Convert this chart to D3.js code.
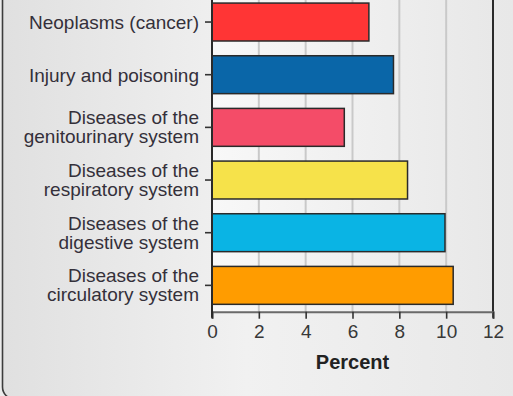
<!DOCTYPE html>
<html>
<head>
<meta charset="utf-8">
<script src="https://cdn.jsdelivr.net/npm/d3@7"></script>
<style>
  html, body { margin: 0; padding: 0; background: #ececec; }
  svg { display: block; }
  text { font-family: "Liberation Sans", Arial, sans-serif; }
</style>
</head>
<body>
<svg id="chart" width="513" height="396"></svg>
<script>
const categories = [
  "Neoplasms (cancer)",
  "Injury and poisoning",
  "Diseases of the genitourinary system",
  "Diseases of the respiratory system",
  "Diseases of the digestive system",
  "Diseases of the circulatory system"
];
const values = [6.7, 7.75, 5.65, 8.35, 9.95, 10.3];
const barColors = ["#ff3535", "#0a66a8", "#f44c68", "#f6e24a", "#0ab4e4", "#ff9c00"];
const xTicks = [0, 2, 4, 6, 8, 10, 12];
const xTitle = "Percent";

const svg = d3.select("#chart");
const W = 513, H = 396;
const plot = { left: 212, right: 493, top: -4.3, bottom: 311.7 };

const defs = svg.append("defs");
const bgGrad = defs.append("linearGradient").attr("id", "bgGrad").attr("x1", "0").attr("x2", "1").attr("y1", "0").attr("y2", "0");
bgGrad.append("stop").attr("offset", "0").attr("stop-color", "#e0e0e0");
bgGrad.append("stop").attr("offset", "0.45").attr("stop-color", "#f1f1f1");
bgGrad.append("stop").attr("offset", "1").attr("stop-color", "#e7e7e7");
const plotGrad = defs.append("linearGradient").attr("id", "plotGrad").attr("x1", "0").attr("x2", "1").attr("y1", "0").attr("y2", "0");
plotGrad.append("stop").attr("offset", "0").attr("stop-color", "#f8f8f8");
plotGrad.append("stop").attr("offset", "1").attr("stop-color", "#e8e8e8");

// outer panel
svg.append("rect").attr("x", 0).attr("y", 0).attr("width", W).attr("height", H).attr("fill", "#ececec");
svg.append("rect")
  .attr("x", 2.5).attr("y", -30).attr("width", W + 30).attr("height", 30 + 399)
  .attr("rx", 12).attr("ry", 12)
  .attr("fill", "url(#bgGrad)").attr("stroke", "#3c3c3c").attr("stroke-width", 1.6);

const x = d3.scaleLinear().domain([0, 12]).range([plot.left, plot.right]);
const y = d3.scaleBand().domain(categories).range([plot.top, plot.bottom])
  .paddingInner(0.28).paddingOuter(0.14);

// plot background
svg.append("rect")
  .attr("x", plot.left).attr("y", plot.top)
  .attr("width", plot.right - plot.left).attr("height", plot.bottom - plot.top)
  .attr("fill", "url(#plotGrad)");

// grid lines
svg.append("g").selectAll("line")
  .data(xTicks.filter(t => t > 0 && t < 12))
  .join("line")
  .attr("x1", d => x(d)).attr("x2", d => x(d))
  .attr("y1", plot.top).attr("y2", plot.bottom)
  .attr("stroke", "#c9c9c9").attr("stroke-width", 2);

// bars
svg.append("g").selectAll("rect")
  .data(categories)
  .join("rect")
  .attr("x", x(0))
  .attr("y", d => y(d))
  .attr("width", (d, i) => x(values[i]) - x(0))
  .attr("height", y.bandwidth())
  .attr("fill", (d, i) => barColors[i])
  .attr("stroke", "#2a2a2a").attr("stroke-width", 1.5);

// right border of plot
svg.append("line")
  .attr("x1", plot.right).attr("x2", plot.right)
  .attr("y1", plot.top).attr("y2", plot.bottom + 6)
  .attr("stroke", "#2a2a2a").attr("stroke-width", 2);

// x axis
const xAxis = svg.append("g")
  .attr("transform", `translate(0,${plot.bottom})`)
  .call(d3.axisBottom(x).tickValues(xTicks).tickSize(7).tickPadding(6));
xAxis.select(".domain").attr("stroke", "#6a6a6a").attr("stroke-width", 2);
xAxis.selectAll(".tick line").attr("stroke", "#333").attr("stroke-width", 1.6);
xAxis.selectAll(".tick text")
  .attr("font-size", 19).attr("fill", "#383838")
  .attr("font-family", "Liberation Sans, Arial, sans-serif");

// y axis
const yAxis = svg.append("g")
  .attr("transform", `translate(${plot.left},0)`)
  .call(d3.axisLeft(y).tickSize(7).tickFormat(""));
yAxis.select(".domain").attr("stroke", "#2a2a2a").attr("stroke-width", 2)
  .attr("d", `M0,${plot.top}V${plot.bottom + 6}`);
yAxis.selectAll(".tick line").attr("stroke", "#333").attr("stroke-width", 1.6);

// y labels
function labelLines(name) {
  const pre = "Diseases of the ";
  return name.startsWith(pre) ? [pre.trim(), name.slice(pre.length)] : [name];
}
const labels = svg.append("g").attr("font-size", 19).attr("fill", "#34303a").attr("text-anchor", "end");
categories.forEach(c => {
  const cy = y(c) + y.bandwidth() / 2;
  const lines = labelLines(c);
  const t = labels.append("text").attr("x", 199);
  if (lines.length === 1) {
    t.append("tspan").attr("x", 199).attr("y", cy + 7).text(lines[0]);
  } else {
    t.append("tspan").attr("x", 199).attr("y", cy - 3).text(lines[0]);
    t.append("tspan").attr("x", 199).attr("y", cy + 16).text(lines[1]);
  }
});

// x title
svg.append("text")
  .attr("x", (plot.left + plot.right) / 2).attr("y", 369)
  .attr("text-anchor", "middle").attr("font-size", 20).attr("font-weight", "bold")
  .attr("fill", "#222").text(xTitle);
</script>
</body>
</html>
